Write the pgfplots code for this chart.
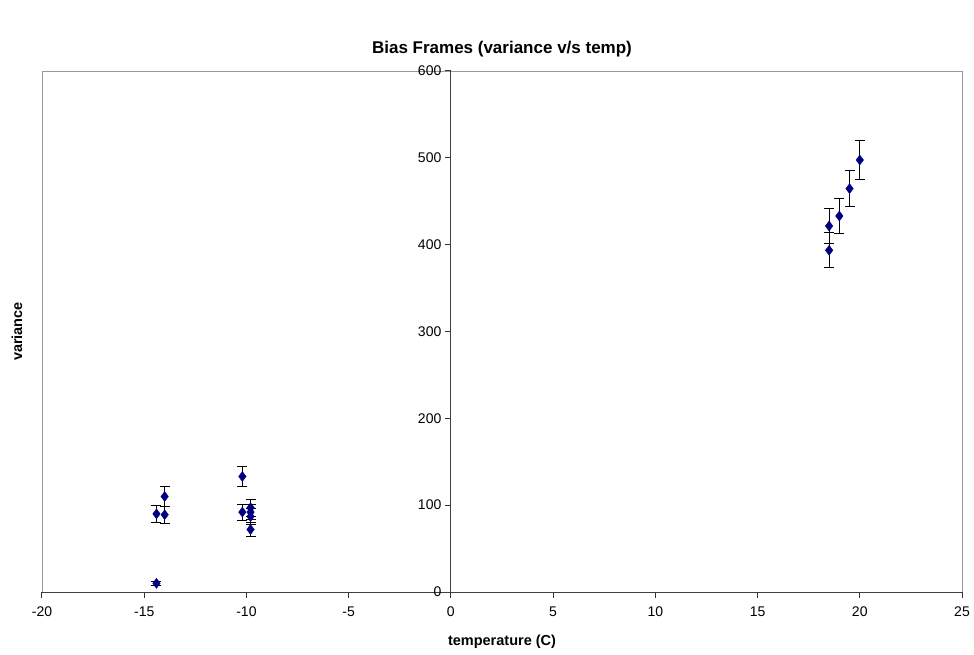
\documentclass[border=0pt]{standalone}
\usepackage{fontspec}
\setmainfont{Liberation Sans}
\usepackage{pgfplots}
\pgfplotsset{compat=1.18}
\definecolor{navy}{HTML}{000080}
\begin{document}
\begin{tikzpicture}
\begin{axis}[
  scale only axis, width=920pt, height=521pt,
  xmin=-20, xmax=25, ymin=0, ymax=600,
  axis x line=bottom, axis y line=middle,
  axis line style={-, black!75, line width=0.9pt},
  axis background/.style={draw=gray!80, line width=0.9pt},
  xtick={-20,-15,...,25}, ytick={0,100,...,600},
  xtick align=outside, ytick align=outside,
  major tick length=6pt,
  xtick style={draw=black!80, line width=1pt},
  ytick style={draw=black!80, line width=1pt},
  /pgf/number format/assume math mode=true,
  ticklabel style={font=\fontsize{14}{16}\selectfont},
  xticklabel style={yshift=-5pt},
  hide obscured x ticks=false, hide obscured y ticks=false,
  title={Bias Frames (variance v/s temp)},
  title style={at={(axis description cs:0.5,1)}, anchor=center, yshift=16pt, font=\fontsize{17}{20}\selectfont\bfseries},
  xlabel={temperature (C)},
  ylabel={variance},
  xlabel style={at={(axis description cs:0.5,0)}, anchor=center, yshift=-50pt, font=\fontsize{14.5}{17}\selectfont\bfseries},
  ylabel style={at={(axis description cs:0,0.5)}, anchor=center, rotate=90, yshift=25pt, font=\fontsize{14.5}{17}\selectfont\bfseries},
  clip=false,
]
\addplot[only marks, mark=diamond*, mark size=5pt, color=navy, mark options={fill=navy, draw=navy},
  error bars/.cd, y dir=both, y explicit,
  error bar style={black, line width=0.9pt},
  error mark options={rotate=90, mark size=5pt, black, line width=0.9pt}]
  table[x=x, y=y, y error=e] {
x y e
-14.4 10 2
-14.4 90 9.5
-14.0 89 10
-14.0 110 11
-10.2 133 11.5
-10.2 92 9.4
-9.8 97 9.5
-9.8 92 9
-9.8 87 8.7
-9.8 72 8.5
18.5 421.5 20.5
18.5 393.5 20
19.0 433 20.6
19.5 464.5 21
20.0 497.5 22
};
\path[draw=none] ([xshift=-42pt,yshift=-62pt]rel axis cs:0,0) rectangle ([xshift=12pt,yshift=71pt]rel axis cs:1,1);
\end{axis}
\end{tikzpicture}
\end{document}
